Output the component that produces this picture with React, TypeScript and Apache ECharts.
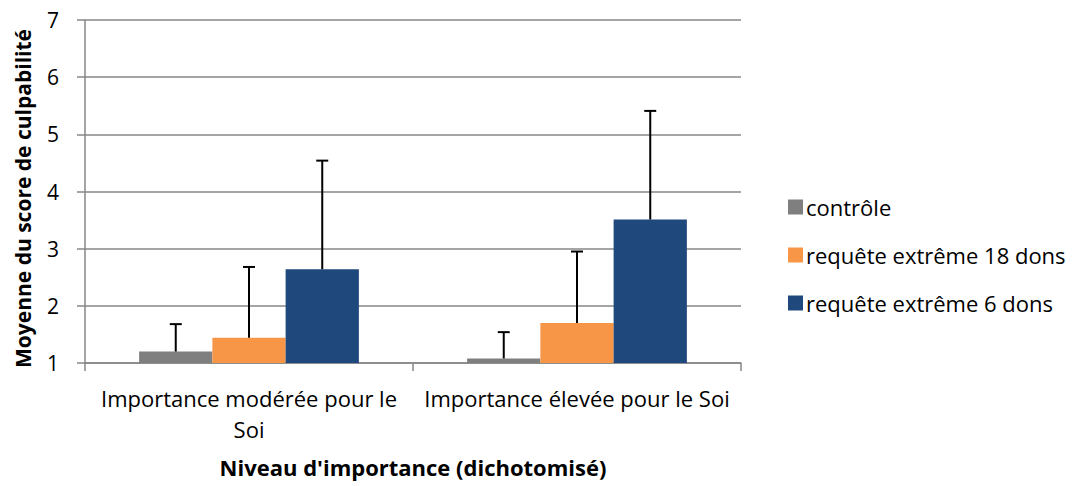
import React, { useEffect, useRef } from "react";
import * as echarts from "echarts";

const categories = ["Importance modérée pour le Soi", "Importance élevée pour le Soi"];
const seriesNames = ["contrôle", "requête extrême 18 dons", "requête extrême 6 dons"];
const controleMeans = [1.2, 1.08];
const req18Means = [1.44, 1.7];
const req6Means = [2.64, 3.51];
const controleUpper = [1.68, 1.54];
const req18Upper = [2.68, 2.95];
const req6Upper = [4.54, 5.41];
const colors = ["#7f7f7f", "#f79646", "#1f497d"];
const yTicks = [1, 2, 3, 4, 5, 6, 7];

const FONT = "'Open Sans', Lato, sans-serif";
const GAP = 0.33;

export default function App() {
  const ref = useRef<HTMLDivElement>(null);
  useEffect(() => {
    const chart = echarts.init(ref.current!, null, { renderer: "svg" });
    const means = [controleMeans, req18Means, req6Means];
    const uppers = [controleUpper, req18Upper, req6Upper];
    const barSeries = seriesNames.map((name, i) => ({
      name,
      type: "bar",
      data: means[i],
      barGap: "0%",
      barCategoryGap: GAP * 100 + "%",
      clip: true,
      itemStyle: { color: colors[i] },
    }));
    const errSeries = seriesNames.map((name, i) => ({
      name: name + "_err",
      type: "custom",
      clip: true,
      z: 5,
      data: categories.map((_, c) => [c, means[i][c], uppers[i][c]]),
      encode: { x: 0, y: [1, 2] },
      renderItem: (params: any, api: any) => {
        const c = api.value(0);
        const top = api.coord([c, api.value(2)]);
        const base = api.coord([c, api.value(1)]);
        const catW = api.size([1, 0])[0];
        const barW = (catW * (1 - GAP)) / 3;
        const x = base[0] + (i - 1) * barW;
        const cap = 6;
        const style = { stroke: "#000", lineWidth: 2 };
        return {
          type: "group",
          children: [
            { type: "line", shape: { x1: x, y1: base[1], x2: x, y2: top[1] }, style },
            { type: "line", shape: { x1: x - cap, y1: top[1], x2: x + cap, y2: top[1] }, style },
          ],
        };
      },
    }));
    chart.setOption({
      animation: false,
      grid: { left: 85, right: 342, top: 20, bottom: 123, containLabel: false },
      legend: {
        orient: "vertical",
        left: 783,
        top: 188,
        data: seriesNames,
        icon: "rect",
        itemWidth: 15,
        itemHeight: 15,
        itemGap: 20,
        textStyle: { fontFamily: FONT, fontSize: 22, color: "#000", lineHeight: 28, padding: [0, 0, 0, -2] },
      },
      xAxis: {
        type: "category",
        data: categories,
        name: "Niveau d'importance (dichotomisé)",
        nameLocation: "middle",
        nameGap: 93,
        nameTextStyle: { fontFamily: FONT, fontSize: 22, fontWeight: "bold", color: "#000" },
        axisLine: { lineStyle: { color: "#878787", width: 1.5 } },
        axisTick: { show: true, length: 8, lineStyle: { color: "#878787", width: 1.5 } },
        axisLabel: {
          fontFamily: FONT,
          fontSize: 22,
          color: "#000",
          margin: 19,
          lineHeight: 31,
          interval: 0,
          formatter: (v: string) => (v === categories[0] ? "Importance modérée pour le\nSoi" : v),
        },
      },
      yAxis: {
        type: "value",
        min: 1,
        max: 7,
        interval: 1,
        name: "Moyenne du score de culpabilité",
        nameLocation: "middle",
        nameGap: 52,
        nameTextStyle: {
          fontFamily: FONT,
          fontSize: 21,
          fontWeight: "bold",
          color: "#000",
          padding: [0, 14, 0, 0],
        },
        axisLine: { show: true, lineStyle: { color: "#878787", width: 1.5 } },
        axisTick: { show: true, length: 8, lineStyle: { color: "#878787", width: 1.5 } },
        splitLine: { lineStyle: { color: "#878787", width: 1.5 } },
        axisLabel: {
          fontFamily: FONT,
          fontSize: 21,
          color: "#000",
          margin: 26,
          formatter: (v: number) => (yTicks.includes(v) ? String(v) : ""),
        },
      },
      series: [...barSeries, ...errSeries],
    });
    return () => chart.dispose();
  }, []);
  return <div ref={ref} style={{ width: 1083, height: 486, position: "absolute", left: 0, top: 0 }} />;
}
